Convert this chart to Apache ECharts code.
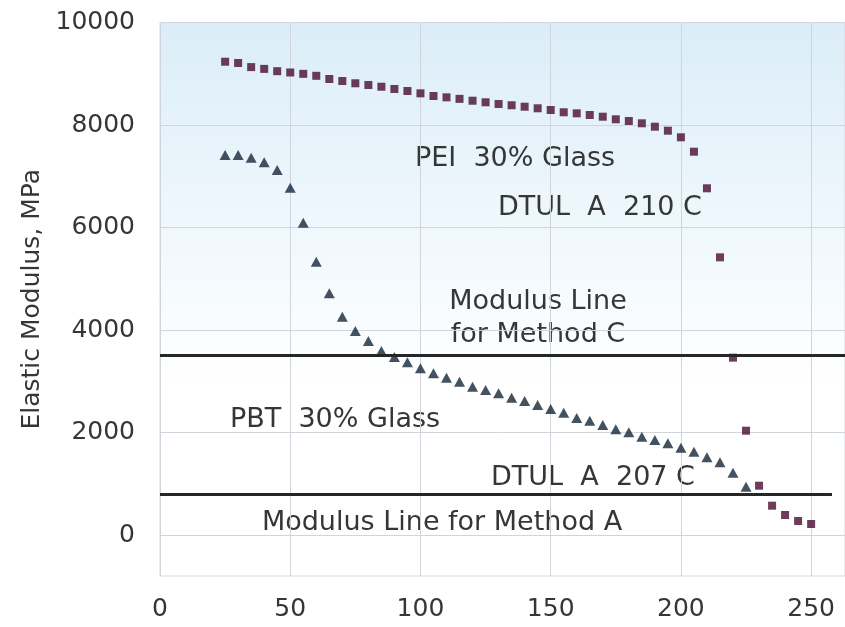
<!DOCTYPE html>
<html><head><meta charset="utf-8">
<script src="https://cdn.jsdelivr.net/npm/echarts@6/dist/echarts.min.js"></script>
<style>html,body{margin:0;padding:0;background:#fff}#c{width:845px;height:627px}</style>
</head><body><div id="c"></div>
<script>
// Temperatures (°C)
const peiTemps = [25,30,35,40,45,50,55,60,65,70,75,80,85,90,95,100,105,110,115,120,125,130,135,140,145,150,155,160,165,170,175,180,185,190,195,200,205,210,215,220,225,230,235,240,245,250];
const peiModulus = [9235,9210,9130,9095,9050,9025,8998,8960,8898,8859,8814,8780,8747,8702,8663,8618,8566,8540,8510,8474,8443,8410,8385,8357,8326,8293,8248,8228,8195,8162,8111,8078,8033,7967,7889,7760,7479,6765,5418,3460,2035,962,572,390,273,215];
const pbtTemps = [25,30,35,40,45,50,55,60,65,70,75,80,85,90,95,100,105,110,115,120,125,130,135,140,145,150,155,160,165,170,175,180,185,190,195,200,205,210,215,220,225];
const pbtModulus = [7415,7415,7362,7272,7122,6777,6094,5333,4716,4260,3980,3785,3590,3475,3370,3253,3155,3069,2991,2894,2829,2765,2679,2615,2537,2459,2385,2283,2230,2146,2062,2004,1918,1854,1789,1703,1625,1516,1419,1216,942];
const modulusMethodC = 3515;
const modulusMethodA = 799;
const methodAEndTemp = 258;
const xTicks = [0,50,100,150,200,250];
const yTicks = [0,2000,4000,6000,8000,10000];

const FONT = 'DejaVu Sans';
const chart = echarts.init(document.getElementById('c'), null, {renderer:'canvas'});
const txt = (t, x, y) => ({type:'text', x:x, y:y, silent:true,
  style:{text:t, fill:'#363636', font:'27px "' + FONT + '"', align:'center', verticalAlign:'middle', textAlign:'center', textVerticalAlign:'middle'}});

chart.setOption({
  animation:false,
  backgroundColor:'#ffffff',
  grid:{left:160, right:0, top:22.5, bottom:51, show:true,
    borderColor:'#d5dbe0', borderWidth:1,
    backgroundColor:{type:'linear', x:0, y:0, x2:0, y2:1, colorStops:[
      {offset:0, color:'#dbedf8'}, {offset:0.35, color:'#eef7fc'}, {offset:0.65, color:'#ffffff'}, {offset:1, color:'#ffffff'}]}},
  xAxis:{type:'value', min:0, max:263,
    axisLine:{show:false},
    axisTick:{show:false, customValues: xTicks},
    splitLine:{show:true, lineStyle:{color:'#cfd5da', width:1}},
    axisLabel:{margin:21, fontSize:25, color:'#363636', fontFamily:FONT,
      customValues: xTicks, formatter: v => String(v)}},
  yAxis:{type:'value', min:-800, max:10000,
    name:'Elastic Modulus, MPa', nameLocation:'middle', nameGap:112,
    nameTextStyle:{fontSize:25, color:'#363636', fontFamily:FONT},
    axisLine:{show:false},
    axisTick:{show:false, customValues: yTicks},
    splitLine:{show:true, lineStyle:{color:'#cfd5da', width:1}},
    axisLabel:{margin:25, fontSize:25, color:'#363636', fontFamily:FONT,
      customValues: yTicks, formatter: v => String(v)}},
  series:[
    {name:'PEI 30% Glass', type:'scatter', symbol:'rect', symbolSize:8,
     itemStyle:{color:'#4a0d32'},
     data: peiTemps.map((t,i)=>[t, peiModulus[i]]), z:3},
    {name:'PBT 30% Glass', type:'scatter', symbol:'triangle', symbolSize:[11,10],
     itemStyle:{color:'#142739'},
     data: pbtTemps.map((t,i)=>[t, pbtModulus[i]]), z:3,
     markLine:{silent:true, symbol:['none','none'], label:{show:false},
       lineStyle:{color:'#262626', width:3, type:'solid'},
       data:[
         [{coord:[0, modulusMethodC]}, {coord:[263, modulusMethodC]}],
         [{coord:[0, modulusMethodA]}, {coord:[methodAEndTemp, modulusMethodA]}]
       ]}}
  ],
  graphic:[
    txt('PEI  30% Glass', 515, 159),
    txt('DTUL  A  210 C', 600, 208),
    txt('Modulus Line', 538, 302),
    txt('for Method C', 538, 335),
    txt('PBT  30% Glass', 335, 420),
    txt('DTUL  A  207 C', 593, 478),
    txt('Modulus Line for Method A', 442, 523)
  ]
});
</script></body></html>
